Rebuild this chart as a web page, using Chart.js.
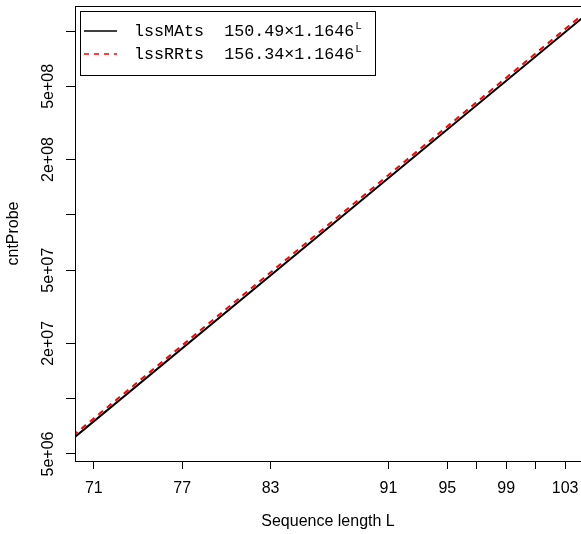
<!DOCTYPE html>
<html lang="en">
<head>
  <meta charset="UTF-8">
  <title>cntProbe vs sequence length</title>
  <style>
  body {
    margin: 0;
    background: white;
    overflow: hidden;
  }
  #chart {
    display: block;
  }
  </style>
  <script src="https://cdn.jsdelivr.net/npm/chart.js"></script>
</head>
<body>
  <canvas id="chart" width="581" height="534"></canvas>

  <script>
    // Sequence lengths where the fitted lines were read (line runs past the plot edges)
    const lengths = [69, 87, 105];
    const lssMAts = [5.55e6, 8.61e7, 1.337e9];
    const lssRRts = [5.76e6, 8.95e7, 1.389e9];

    const seriesNames = ['lssMAts', 'lssRRts'];
    const fitCoef = ['150.49', '156.34'];
    const fitBase = '1.1646';

    const xTicks = [71, 77, 83, 91, 95, 97, 99, 101, 103];
    const xTickLabels = ['71', '77', '83', '91', '95', '', '99', '', '103'];
    const yTicks = [5e6, 1e7, 2e7, 5e7, 1e8, 2e8, 5e8, 1e9];
    const yTickLabels = ['5e+06', '', '2e+07', '5e+07', '', '2e+08', '5e+08', ''];

    const sansFont = 'Liberation Sans, Arial, sans-serif';
    const monoFont = 'Liberation Mono, Courier New, monospace';

    Chart.defaults.font.family = sansFont;
    Chart.defaults.font.size = 16;
    Chart.defaults.color = '#000';

    function toPoints(ys) {
      return lengths.map((x, i) => ({ x: x, y: ys[i] }));
    }

    // box, rotated y labels and the legend, R style
    const extras = {
      id: 'extras',
      afterDraw(chart) {
        const ctx = chart.ctx;
        const area = chart.chartArea;
        const yScale = chart.scales.y;
        ctx.save();

        // plot box (right side falls outside the window)
        ctx.strokeStyle = '#000';
        ctx.lineWidth = 1;
        ctx.strokeRect(area.left + 0.5, area.top + 0.5, area.right - area.left + 4, area.bottom - area.top);

        // y tick labels, rotated
        ctx.fillStyle = '#000';
        ctx.font = '16px ' + sansFont;
        ctx.textAlign = 'center';
        ctx.textBaseline = 'middle';
        yTicks.forEach((v, i) => {
          if (!yTickLabels[i]) return;
          const py = yScale.getPixelForValue(v);
          ctx.save();
          ctx.translate(49, py);
          ctx.rotate(-Math.PI / 2);
          ctx.fillText(yTickLabels[i], 0, 0);
          ctx.restore();
        });

        // legend
        const lx = 80, ly = 11, lw = 295, lh = 64;
        ctx.fillStyle = '#fff';
        ctx.fillRect(lx, ly, lw, lh);
        ctx.strokeRect(lx + 0.5, ly + 0.5, lw, lh);

        const rowY = [31, 54];
        chart.data.datasets.slice().sort((a, b) => a.legendIndex - b.legendIndex).forEach((ds, i) => {
          ctx.strokeStyle = ds.borderColor;
          ctx.lineWidth = 1.5;
          ctx.setLineDash(ds.borderDash ? [5, 5] : []);
          ctx.beginPath();
          ctx.moveTo(84, rowY[i]);
          ctx.lineTo(117, rowY[i]);
          ctx.stroke();
          ctx.setLineDash([]);

          const txt = seriesNames[i] + '  ' + fitCoef[i] + '\u00d7' + fitBase;
          ctx.fillStyle = '#000';
          ctx.font = '16.7px ' + monoFont;
          ctx.textAlign = 'left';
          ctx.textBaseline = 'middle';
          ctx.fillText(txt, 134, rowY[i] + 1);
          const w = ctx.measureText(txt).width;
          ctx.font = '11px ' + monoFont;
          ctx.fillText('L', 134 + w + 1, rowY[i] - 5);
        });

        ctx.restore();
      }
    };

    new Chart(document.getElementById('chart'), {
      type: 'line',
      data: {
        datasets: [{
          label: 'lssMAts',
          legendIndex: 0,
          data: toPoints(lssMAts),
          borderColor: '#000',
          borderWidth: 2,
          pointRadius: 0,
          tension: 0,
          order: 1
        }, {
          label: 'lssRRts',
          legendIndex: 1,
          data: toPoints(lssRRts),
          borderColor: '#ff0000',
          borderWidth: 2,
          borderDash: [6, 5],
          pointRadius: 0,
          tension: 0,
          order: 0
        }]
      },
      options: {
        responsive: false,
        animation: false,
        devicePixelRatio: 1,
        layout: { padding: { left: 0, top: 6, right: 0, bottom: 0 } },
        plugins: {
          legend: { display: false },
          tooltip: { enabled: false }
        },
        scales: {
          x: {
            type: 'linear',
            min: 69.72,
            max: 104.08,
            afterBuildTicks: (scale) => {
              scale.ticks = xTicks.map(v => ({ value: v }));
            },
            afterFit: (scale) => {
              scale.height = 73;
              scale.paddingLeft = 0;
              scale.paddingRight = 0;
            },
            ticks: {
              autoSkip: false,
              maxRotation: 0,
              padding: 10,
              callback: (value) => {
                const i = xTicks.indexOf(value);
                return i >= 0 ? xTickLabels[i] : '';
              }
            },
            grid: {
              drawOnChartArea: false,
              drawTicks: true,
              tickLength: 8,
              color: '#000'
            },
            border: { display: false },
            title: {
              display: true,
              text: 'Sequence length L',
              padding: { top: 0, bottom: 2.4 }
            }
          },
          y: {
            type: 'logarithmic',
            min: 4.58e6,
            max: 1.368e9,
            afterBuildTicks: (scale) => {
              scale.ticks = yTicks.map(v => ({ value: v }));
            },
            afterFit: (scale) => {
              scale.width = 75;
              scale.paddingTop = 0;
              scale.paddingBottom = 0;
            },
            ticks: { display: false, autoSkip: false },
            grid: {
              drawOnChartArea: false,
              drawTicks: true,
              tickLength: 9,
              color: '#000'
            },
            border: { display: false },
            title: {
              display: true,
              text: 'cntProbe',
              padding: { top: 4.4, bottom: 0 }
            }
          }
        }
      },
      plugins: [extras]
    });
  </script>
</body>
</html>
